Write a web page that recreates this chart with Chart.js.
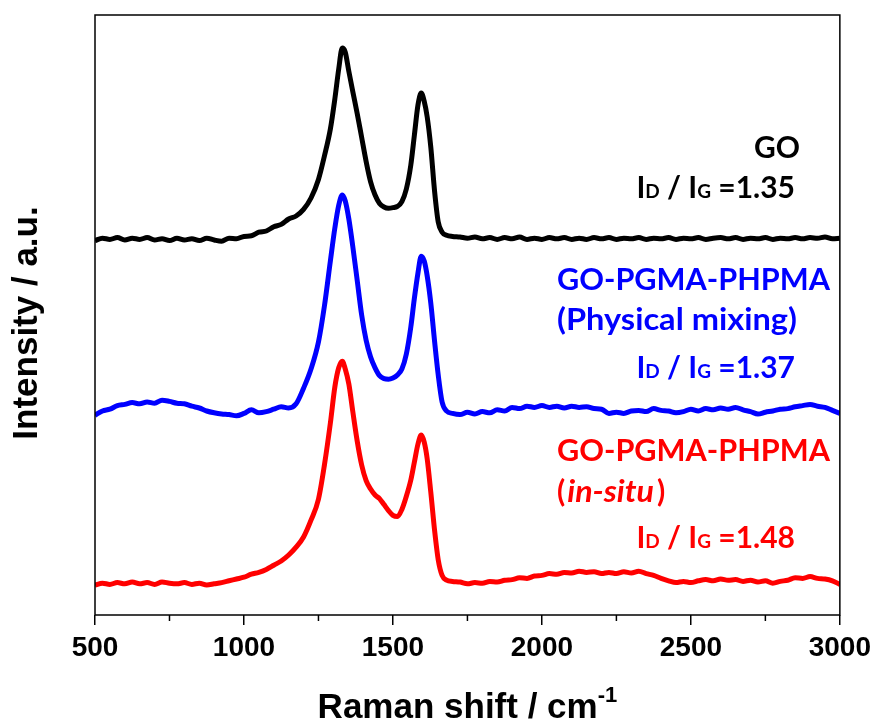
<!DOCTYPE html>
<html>
<head>
<meta charset="utf-8">
<script src="https://cdn.jsdelivr.net/npm/chart.js@4.4.1/dist/chart.umd.min.js"></script>
<style>
  html, body { margin: 0; padding: 0; background: #fff; }
</style>
</head>
<body>
<canvas id="ramanChart" width="877" height="724"></canvas>
<script>
// Raman shift (cm-1), shared by all three spectra
const ramanShift = [
  500, 525, 550, 575, 600, 625, 650, 675, 700, 725, 750, 775, 800, 825, 850, 875, 900, 925, 950, 975, 1000, 1025, 1050, 1075, 1100, 1125, 1150,
  1175, 1200, 1225, 1250, 1270, 1290, 1305, 1318, 1330, 1340, 1352, 1365, 1380, 1395, 1410, 1425, 1440, 1455, 1470, 1485, 1500, 1515,
  1530, 1545, 1560, 1572, 1584, 1595, 1605, 1615, 1627, 1640, 1652, 1665, 1680, 1700,
  1725, 1750, 1775, 1800, 1825, 1850, 1875, 1900, 1925, 1950, 1975, 2000, 2025, 2050, 2075, 2100, 2125, 2150, 2175, 2200,
  2225, 2250, 2275, 2300, 2325, 2350, 2375, 2400, 2425, 2450, 2475, 2500, 2525, 2550, 2575, 2600, 2625, 2650, 2675, 2700,
  2725, 2750, 2775, 2800, 2825, 2850, 2875, 2900, 2925, 2950, 2975, 3000];

// intensities (a.u., spectra offset vertically)
const goIntensity = [
  62.4, 62.8, 62.6, 62.9, 62.5, 62.8, 62.6, 62.9, 62.5, 62.7, 62.4, 62.8, 62.5, 62.7, 62.4, 62.8, 62.5, 62.3, 62.8, 62.7, 63.1, 63.2, 63.8, 64.0, 64.7, 65.1, 66.0,
  66.5, 67.6, 69.5, 72.6, 76.5, 81.0, 86.0, 91.0, 94.5, 93.8, 90.6, 87.3, 83.6, 79.6, 75.6, 72.2, 70.0, 68.6, 68.0, 67.8, 67.9, 68.1,
  68.9, 71.0, 75.0, 80.0, 85.0, 87.0, 85.6, 83.0, 78.0, 70.5, 65.5, 63.8, 63.3, 63.1,
  63.0, 62.8, 63.0, 62.7, 62.9, 62.6, 62.9, 62.7, 63.0, 62.6, 62.8, 62.6, 62.9, 62.7, 62.9, 62.6, 62.8, 62.6, 62.9, 62.7,
  62.9, 62.6, 62.8, 62.7, 62.9, 62.6, 62.8, 62.7, 62.9, 62.6, 62.8, 62.7, 62.9, 62.6, 62.8, 62.9, 62.7, 62.9, 62.6, 62.8,
  62.7, 62.9, 62.6, 62.8, 62.7, 62.9, 62.7, 62.9, 62.8, 63.0, 62.7, 62.8];

const physMixIntensity = [
  33.3, 34.0, 34.3, 34.9, 35.1, 35.4, 35.2, 35.5, 35.3, 35.8, 35.6, 35.3, 35.2, 34.8, 34.5, 34.0, 33.7, 33.5, 33.4, 33.2, 33.6, 34.2, 33.7, 33.9, 34.3, 34.7, 34.5,
  35.2, 37.8, 41.0, 45.5, 51.5, 59.0, 64.5, 68.3, 70.0, 69.0, 66.0, 61.5, 55.8, 50.0, 45.8, 43.0, 41.2, 39.9, 39.4, 39.3, 39.5, 40.0,
  41.0, 43.5, 48.0, 52.8, 57.0, 59.8, 59.0, 56.5, 52.0, 45.5, 40.0, 35.5, 34.0, 33.6,
  33.4, 33.8, 33.5, 33.9, 33.7, 34.2, 34.0, 34.6, 34.4, 34.8, 34.6, 34.9, 34.6, 34.8, 34.5, 34.8, 34.6, 34.7, 34.4, 34.3,
  33.6, 33.8, 33.6, 34.0, 34.1, 33.9, 34.4, 34.1, 34.0, 33.7, 33.9, 34.3, 34.0, 34.4, 34.2, 34.5, 34.3, 34.6, 34.2, 33.9,
  33.5, 33.8, 34.0, 34.3, 34.4, 34.7, 34.9, 35.1, 34.8, 34.6, 34.1, 33.6];

const inSituIntensity = [
  5.0, 5.3, 5.1, 5.4, 5.2, 5.5, 5.2, 5.4, 5.1, 5.5, 5.3, 5.2, 5.4, 5.1, 5.3, 5.0, 5.2, 5.4, 5.7, 6.0, 6.3, 6.8, 7.1, 7.6, 8.3, 9.0, 10.0,
  11.3, 13.0, 15.8, 19.3, 25.0, 32.0, 38.0, 41.2, 42.3, 41.0, 38.5, 34.0, 29.0, 25.0, 22.4, 21.0, 20.0, 19.4, 18.4, 17.4, 16.6, 16.4,
  17.6, 19.8, 22.5, 25.5, 28.5, 30.0, 28.8, 26.0, 20.5, 14.0, 9.2, 6.6, 5.8, 5.6,
  5.5, 5.2, 5.4, 5.3, 5.6, 5.5, 5.8, 5.9, 6.2, 6.1, 6.5, 6.6, 6.9, 6.8, 7.1, 7.0, 7.3, 7.1, 7.2, 6.9,
  7.1, 6.9, 7.2, 7.0, 7.3, 6.9, 6.6, 6.1, 5.7, 5.4, 5.6, 5.4, 5.7, 5.9, 5.7, 6.0, 5.8, 5.9, 5.6, 5.8,
  5.5, 5.7, 5.3, 5.6, 5.8, 6.2, 6.1, 6.4, 6.1, 6.0, 5.7, 5.1];

const majorTicks = [500, 1000, 1500, 2000, 2500, 3000];
const minorTicks = [750, 1250, 1750, 2250, 2750];

function toPoints(ys) {
  return ramanShift.map((x, i) => ({ x: x, y: ys[i] }));
}

const labelFont = 'Lato';

// "ID / IG =x.xx" with the small D and G, right aligned
function drawRatio(ctx, ratio, right, base, color) {
  const parts = [['I', 30], ['D', 19], [' / ', 30], ['I', 30], ['G', 19], [' =' + ratio, 30]];
  let total = 0;
  parts.forEach(p => { ctx.font = 'bold ' + p[1] + 'px ' + labelFont; total += ctx.measureText(p[0]).width; });
  let x = right - total;
  ctx.fillStyle = color;
  ctx.textAlign = 'left';
  parts.forEach(p => {
    ctx.font = 'bold ' + p[1] + 'px ' + labelFont;
    ctx.fillText(p[0], x, base);
    x += ctx.measureText(p[0]).width;
  });
}

// text squeezed/stretched to span left..right
function fitText(ctx, txt, left, right, base) {
  const w = ctx.measureText(txt).width;
  ctx.save();
  ctx.translate(left, base);
  ctx.scale((right - left) / w, 1);
  ctx.textAlign = 'left';
  ctx.fillText(txt, 0, 0);
  ctx.restore();
}

const overlay = {
  id: 'overlay',
  afterDraw(chart) {
    const { ctx, chartArea: a, scales: { x } } = chart;
    ctx.save();
    // frame
    ctx.strokeStyle = '#000';
    ctx.lineWidth = 1.5;
    ctx.strokeRect(a.left, a.top, a.right - a.left, a.bottom - a.top);
    // minor ticks
    minorTicks.forEach(v => {
      const px = x.getPixelForValue(v);
      ctx.beginPath();
      ctx.moveTo(px, a.bottom);
      ctx.lineTo(px, a.bottom + 6);
      ctx.stroke();
    });

    ctx.textBaseline = 'alphabetic';
    // GO
    ctx.fillStyle = '#000';
    ctx.textAlign = 'right';
    ctx.font = 'bold 30px ' + labelFont;
    ctx.fillText('GO', 800, 158);
    drawRatio(ctx, '1.35', 795, 198, '#000');

    // physical mixing
    ctx.fillStyle = '#0000ff';
    ctx.font = 'bold 30px ' + labelFont;
    fitText(ctx, 'GO-PGMA-PHPMA', 557, 830, 290);
    fitText(ctx, '(Physical mixing)', 557, 797, 330);
    drawRatio(ctx, '1.37', 795, 378, '#0000ff');

    // in-situ
    ctx.fillStyle = '#ff0000';
    ctx.font = 'bold 30px ' + labelFont;
    fitText(ctx, 'GO-PGMA-PHPMA', 557, 830, 461);
    ctx.textAlign = 'left';
    let lx = 557;
    ctx.font = 'bold 30px ' + labelFont;
    ctx.fillText('(', lx, 502); lx += ctx.measureText('(').width + 2;
    ctx.font = 'italic bold 30px ' + labelFont;
    fitText(ctx, 'in-situ', lx, lx + ctx.measureText('in-situ').width + 6, 502);
    lx += ctx.measureText('in-situ').width + 9;
    ctx.font = 'bold 30px ' + labelFont;
    ctx.fillText(')', lx, 502);
    drawRatio(ctx, '1.48', 795, 548, '#ff0000');

    // axis titles
    ctx.fillStyle = '#000';
    const t1 = 'Raman shift / cm';
    ctx.font = 'bold 35px "Liberation Sans"';
    const w1 = ctx.measureText(t1).width;
    ctx.font = 'bold 22px "Liberation Sans"';
    const w2 = ctx.measureText('-1').width;
    const sx = (a.left + a.right) / 2 - (w1 + w2) / 2;
    ctx.textAlign = 'left';
    ctx.font = 'bold 35px "Liberation Sans"';
    ctx.fillText(t1, sx, 718);
    ctx.font = 'bold 22px "Liberation Sans"';
    ctx.fillText('-1', sx + w1, 702);

    ctx.translate(37, 323);
    ctx.rotate(-Math.PI / 2);
    ctx.textAlign = 'center';
    ctx.font = 'bold 35px "Liberation Sans"';
    ctx.fillText('Intensity / a.u.', 0, 0);
    ctx.restore();
  }
};

const lineStyle = { borderWidth: 5, pointRadius: 0, cubicInterpolationMode: 'monotone', fill: false };

new Chart(document.getElementById('ramanChart').getContext('2d'), {
  type: 'line',
  data: {
    datasets: [
      Object.assign({ label: 'GO', data: toPoints(goIntensity), borderColor: '#000000' }, lineStyle),
      Object.assign({ label: 'GO-PGMA-PHPMA (Physical mixing)', data: toPoints(physMixIntensity), borderColor: '#0000ff' }, lineStyle),
      Object.assign({ label: 'GO-PGMA-PHPMA (in-situ)', data: toPoints(inSituIntensity), borderColor: '#ff0000' }, lineStyle)
    ]
  },
  options: {
    responsive: false,
    animation: false,
    layout: { padding: { left: 95, right: 37, top: 15, bottom: 0 } },
    plugins: { legend: { display: false }, tooltip: { enabled: false } },
    scales: {
      x: {
        type: 'linear',
        min: 500,
        max: 3000,
        afterFit: s => { s.height = 109; },
        border: { display: false },
        grid: {
          drawOnChartArea: false,
          drawTicks: true,
          tickLength: 10,
          lineWidth: 1.5,
          tickColor: c => (majorTicks.includes(c.tick.value) ? '#000' : 'rgba(0,0,0,0)')
        },
        ticks: {
          stepSize: 250,
          autoSkip: false,
          maxRotation: 0,
          padding: 6,
          color: '#000',
          font: { family: 'Liberation Sans', weight: 'bold', size: 28 },
          callback: v => (majorTicks.includes(v) ? String(v) : '')
        }
      },
      y: {
        display: false,
        min: 0,
        max: 100
      }
    }
  },
  plugins: [overlay]
});
</script>
</body>
</html>
